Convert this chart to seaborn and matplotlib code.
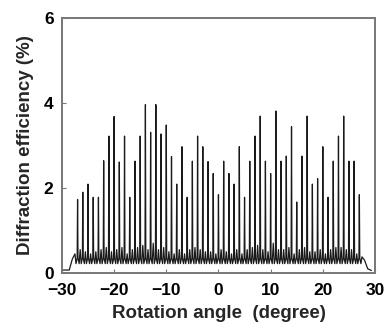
import matplotlib
matplotlib.use("Agg")
import matplotlib.pyplot as plt
import seaborn as sns
import pandas as pd

sns.set_style("white")
plt.rcParams['font.family'] = ['Liberation Sans', 'DejaVu Sans']
plt.rcParams['font.weight'] = 'bold'

# peak positions (degree) and peak heights (%)
peak_angle = list(range(-27, 28))
peak_height = [1.73, 1.90, 2.09, 1.78, 1.78, 2.64, 3.22, 3.68, 2.61, 3.22,
               1.78, 2.63, 3.22, 3.96, 3.31, 3.96, 3.27, 3.48, 2.74, 2.09,
               2.97, 1.78, 2.63, 3.22, 2.97, 2.62, 2.34, 1.84, 2.63, 2.34,
               2.09, 2.97, 1.78, 2.63, 3.22, 3.69, 2.63, 2.34, 3.81, 2.63,
               2.75, 3.44, 1.67, 2.75, 3.69, 2.09, 2.22, 2.97, 1.78, 2.63,
               3.22, 3.69, 2.63, 2.63, 1.84]
# small side lobes between the main peaks
lobe_height = [0.45, 0.55, 0.50, 0.45, 0.50, 0.55, 0.60, 0.50, 0.55, 0.60,
               0.45, 0.55, 0.60, 0.65, 0.55, 0.70, 0.55, 0.60, 0.50, 0.45,
               0.55, 0.45, 0.55, 0.60, 0.55, 0.50, 0.50, 0.45, 0.55, 0.50,
               0.45, 0.55, 0.45, 0.55, 0.60, 0.65, 0.55, 0.50, 0.70, 0.55,
               0.55, 0.60, 0.45, 0.55, 0.60, 0.50, 0.50, 0.55, 0.45, 0.55,
               0.60, 0.60, 0.55, 0.55, 0.45]
valley = 0.22

# flat ends of the scan
left_edge_x = [-29.8, -28.6, -28.0]
left_edge_y = [0.07, 0.07, 0.33]
right_edge_x = [27.5, 28.0, 28.6, 29.3]
right_edge_y = [0.38, 0.30, 0.10, 0.06]

xs = list(left_edge_x)
ys = list(left_edge_y)
for a, h, lb in zip(peak_angle, peak_height, lobe_height):
    xs += [a - 0.5, a - 0.3, a - 0.08, a, a + 0.08, a + 0.3]
    ys += [lb, valley, 0.35, h, 0.35, valley]
xs += right_edge_x
ys += right_edge_y
df = pd.DataFrame({"angle": xs, "eff": ys})

fig = plt.figure(figsize=(3.87, 3.25), dpi=100)
ax = fig.add_axes([0.160, 0.160, 0.809, 0.785])
sns.lineplot(data=df, x="angle", y="eff", sort=False, color="#1a1a1a",
             lw=0.9, ax=ax, estimator=None)

ax.set_xlim(-30, 30)
ax.set_ylim(0, 6)
ax.set_xticks([-30, -20, -10, 0, 10, 20, 30])
ax.set_yticks([0, 2, 4, 6])
ax.tick_params(direction="in", length=3, width=0.8, colors="#777777",
               labelcolor="black", labelsize=12.5, bottom=True, left=True)
ax.tick_params(axis="x", pad=7)
ax.tick_params(axis="y", pad=6)
for s in ax.spines.values():
    s.set_color("#777777")
    s.set_linewidth(1.4)
ax.set_xlabel("Rotation angle  (degree)", fontsize=13.5, fontweight="bold",
              labelpad=5)
ax.set_ylabel("Diffraction efficiency (%)", fontsize=13.5, fontweight="bold",
              labelpad=7)

fig.savefig("out.png", dpi=100)
